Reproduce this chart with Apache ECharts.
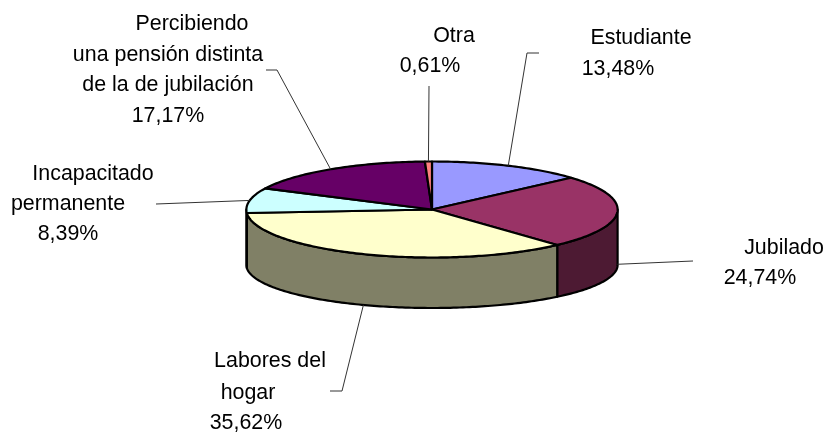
<!DOCTYPE html>
<html><head><meta charset="utf-8">
<style>html,body{margin:0;padding:0;background:#fff}#c{width:825px;height:432px}</style>
<script src="https://cdn.jsdelivr.net/npm/echarts@6/dist/echarts.min.js"></script>
</head><body><div id="c"></div>
<script>
const categories = ['Estudiante','Jubilado','Labores del hogar','Incapacitado permanente','Percibiendo una pensión distinta de la de jubilación','Otra'];
const values = [13.48,24.74,35.62,8.39,17.17,0.61];
const categoryLines = [['Estudiante'],['Jubilado'],['Labores del','hogar'],['Incapacitado','permanente'],['Percibiendo','una pensión distinta','de la de jubilación'],['Otra']];

// layout of the projected pie
const CX=432, CY=209.5, RX=185.6, RY=48, BCY=265, BRY=43;
const total = values.reduce((a,b)=>a+b,0);
const FONT='21.4px "Liberation Sans", Arial, sans-serif';
const topColors=['#9999FF','#993366','#FFFFCC','#CCFFFF','#660066','#FF8080'];
const sideColors=['#4D4D80','#4D1A33','#808066','#668080','#330033','#804040'];
// per-slice label layout: [center x, center y] of each text line, percent line last
const labelPlace=[
 [[641,38],[618,69]],
 [[784,248],[760,278]],
 [[270,361],[248,393],[246,423]],
 [[93,174],[68,204],[68,234]],
 [[192,24],[168,55],[168,85],[168,116]],
 [[454,36],[430,66]]
];
// leader elbows (outer points), whether the leader lands on the lower rim, and a small vertical nudge
const leaderPath=[[[539,53],[527,53]],[[693,261]],[[330,391],[342,391]],[[156,204]],[[266,70],[277,70]],[[429,86]]];
const leaderLower=[false,true,true,false,false,false];
const leaderNudge=[0,-3,0,0,0,0];

function arcRange(i){
  let s=0; for(let k=0;k<i;k++) s+=values[k];
  return [s/total*360,(s+values[i])/total*360];
}
const pt=(a,cy,ry)=>{const r=a*Math.PI/180;return [CX+RX*Math.sin(r),cy-ry*Math.cos(r)];};
function arc(a0,a1,cy,ry){
  const out=[],n=Math.max(2,Math.ceil(Math.abs(a1-a0)));
  for(let j=0;j<=n;j++) out.push(pt(a0+(a1-a0)*j/n,cy,ry));
  return out;
}
const data=values.map((v,i)=>[i,v]);
const base={type:'custom',coordinateSystem:'none',data:data,silent:true,animation:false,clip:false};

const chart=echarts.init(document.getElementById('c'),null,{renderer:'canvas'});
chart.setOption({
 animation:false,
 backgroundColor:'#ffffff',
 series:[
  Object.assign({},base,{name:'side',z:1,renderItem:(p,api)=>{
    const i=api.value(0),[a0,a1]=arcRange(i);
    const s=Math.max(a0,90),e=Math.min(a1,270);
    if(e<=s) return {type:'group',children:[]};
    const pts=arc(s,e,CY,RY).concat(arc(e,s,BCY,BRY));
    return {type:'polygon',shape:{points:pts},style:{fill:sideColors[i],stroke:'#000',lineWidth:2.2,lineJoin:'round'}};
  }}),
  Object.assign({},base,{name:'top',z:2,renderItem:(p,api)=>{
    const i=api.value(0),[a0,a1]=arcRange(i);
    const pts=[[CX,CY]].concat(arc(a0,a1,CY,RY));
    return {type:'polygon',shape:{points:pts},style:{fill:topColors[i],stroke:'#000',lineWidth:2.2,lineJoin:'round'}};
  }}),
  Object.assign({},base,{name:'labels',z:3,renderItem:(p,api)=>{
    const i=api.value(0),[a0,a1]=arcRange(i),mid=(a0+a1)/2;
    const a=leaderLower[i]?pt(mid,BCY,BRY):pt(mid,CY,RY);
    const anchor=[a[0],a[1]+leaderNudge[i]];
    const children=[{type:'polyline',shape:{points:leaderPath[i].concat([anchor])},style:{fill:'none',stroke:'#333',lineWidth:1}}];
    const lines=categoryLines[i].concat([api.value(1).toFixed(2).replace('.',',')+'%']);
    lines.forEach((t,k)=>children.push({type:'text',style:{text:t,x:labelPlace[i][k][0],y:labelPlace[i][k][1],font:FONT,fill:'#000',textAlign:'center',textVerticalAlign:'middle'}}));
    return {type:'group',children};
  }})
 ]
});
</script></body></html>
